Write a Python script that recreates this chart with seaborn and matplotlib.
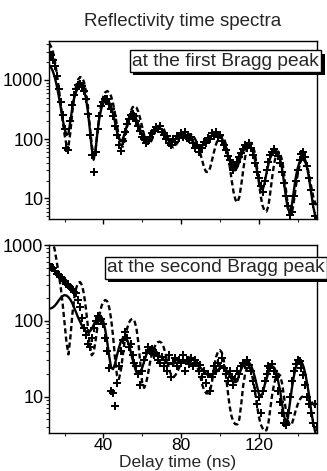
import matplotlib
matplotlib.use("Agg")
import matplotlib.pyplot as plt
import matplotlib.patheffects as pe
from matplotlib.ticker import FixedLocator, LogLocator, NullFormatter
import seaborn as sns

sns.set_style("ticks")
plt.rcParams['font.family'] = ['Liberation Sans', 'DejaVu Sans']

TIME_NS = list(range(12, 151))

TOP_DATA = [
    2900, 2600, 2200, 1700, 1150, 700, 420, 260, 150, 70,
    66, 200, 380, 560, 700, 820, 850, 800, 660, 470,
    270, 120, 55, 28, 60, 150, 250, 360, 420, 470,
    470, 400, 330, 250, 170, 120, 80, 63, 95, 130,
    180, 220, 260, 270, 245, 200, 165, 135, 110, 100,
    88, 95, 110, 125, 140, 160, 150, 165, 130, 120,
    100, 115, 88, 80, 100, 90, 115, 105, 125, 110,
    130, 105, 100, 110, 85, 70, 80, 62, 72, 70,
    90, 85, 105, 100, 125, 115, 130, 110, 120, 95,
    80, 65, 52, 45, 38, 30, 35, 42, 50, 58,
    68, 80, 70, 85, 72, 55, 40, 28, 22, 16,
    13, 20, 30, 42, 55, 60, 68, 58, 52, 40,
    28, 18, 11, 7.5, 5.3, 6, 11, 20, 30, 45,
    56, 62, 50, 35, 22, 14, 8, 5, 3.8,
]
TOP_SOLID = [
    1800, 1650, 1400, 1100, 800, 540, 350, 220, 150, 118,
    125, 200, 340, 500, 640, 740, 790, 770, 670, 500,
    300, 150, 70, 45, 68, 135, 235, 335, 410, 450,
    455, 420, 350, 270, 195, 135, 102, 92, 100, 127,
    165, 205, 235, 250, 243, 215, 178, 143, 118, 103,
    97, 98, 105, 118, 135, 150, 156, 154, 147, 135,
    120, 107, 98, 94, 95, 100, 107, 114, 119, 122,
    121, 117, 110, 101, 92, 84, 78, 75, 75, 78,
    84, 92, 101, 110, 117, 122, 124, 122, 115, 104,
    89, 72, 56, 43, 34, 30, 30, 34, 42, 53,
    63, 72, 77, 78, 73, 62, 46, 31, 20, 15,
    14, 18, 27, 38, 49, 57, 62, 62, 57, 46,
    32, 19, 10.5, 6.7, 5.8, 7.5, 13, 22, 32, 41,
    46, 46, 41, 32, 21, 12.5, 7.5, 5.2, 4.3,
]
TOP_DASHED = [
    4200, 3700, 3000, 2100, 1300, 750, 400, 210, 120, 80,
    75, 130, 290, 530, 800, 1020, 1120, 1100, 930, 650,
    370, 170, 80, 53, 65, 140, 260, 400, 530, 620,
    650, 620, 530, 400, 270, 170, 110, 80, 75, 95,
    145, 215, 290, 345, 365, 345, 290, 220, 160, 118,
    95, 85, 86, 98, 120, 145, 163, 171, 166, 150,
    127, 104, 86, 76, 73, 77, 86, 97, 108, 116,
    120, 122, 122, 120, 114, 104, 90, 73, 56, 42,
    32, 28, 28, 33, 45, 62, 82, 100, 111, 113,
    104, 84, 58, 36, 21, 13, 9.5, 8.6, 10.5, 17,
    30, 50, 70, 84, 87, 78, 58, 36, 20, 11,
    7.5, 6.2, 6, 7.5, 13, 24, 40, 55, 62, 58,
    44, 27, 14, 7.5, 5.2, 5.5, 8.5, 15, 25, 36,
    45, 48, 44, 35, 24, 16, 11, 8.5, 7.5,
]

BOTTOM_DATA = [
    560, 520, 500, 460, 420, 400, 380, 350, 330, 310,
    300, 280, 260, 240, 230, 190, 150, 110, 80, 65,
    50, 45, 60, 80, 100, 115, 110, 105, 90, 60,
    40, 24, 12, 11, 7.5, 15, 25, 40, 55, 70,
    60, 45, 50, 35, 28, 25, 20, 14, 22, 30,
    38, 45, 40, 42, 35, 38, 30, 28, 33, 25,
    30, 22, 35, 18, 28, 32, 25, 30, 28, 35,
    22, 30, 27, 32, 25, 30, 28, 22, 26, 18,
    22, 15, 20, 12, 18, 25, 22, 28, 25, 32,
    24, 20, 16, 22, 18, 14, 17, 22, 20, 25,
    28, 26, 30, 26, 22, 16, 12, 8, 10, 6,
    12, 16, 20, 25, 24, 27, 22, 18, 12, 8.5,
    6, 4.5, 4.2, 6, 10, 16, 22, 27, 30, 29,
    24, 19, 14, 10, 8, 6, 4.5, 8, 4,
]
BOTTOM_SOLID = [
    145, 146, 150, 158, 170, 185, 200, 212, 218, 215,
    205, 190, 170, 148, 128, 110, 97, 86, 78, 73,
    71, 72, 78, 88, 100, 110, 116, 112, 98, 75,
    52, 34, 24, 23, 27, 35, 44, 53, 59, 61,
    58, 50, 40, 31, 25, 21, 20, 21, 24, 29,
    35, 40, 44, 45, 43, 40, 37, 34, 33, 31,
    29, 28, 27, 27, 27, 28, 28, 29, 29, 29,
    29, 28.5, 28, 27.5, 27, 26.5, 26, 25, 24, 22.5,
    21, 20, 19, 19, 19, 20, 21, 22.5, 24, 24.5,
    24, 23, 21, 19, 17, 15.5, 15.5, 16, 20, 23,
    26, 28, 29, 28, 26, 22, 18, 14, 11, 10,
    11, 14, 17, 21, 24, 25, 24, 21, 16, 12,
    8, 5.5, 4.6, 5.2, 8, 12.5, 18, 24, 28, 30,
    29, 25, 20, 14.5, 10, 6.5, 4.5, 3.5, 2.8,
]
BOTTOM_DASHED = [
    2000, 1500, 1100, 850, 600, 420, 280, 170, 95, 52,
    36, 60, 120, 200, 270, 315, 325, 295, 225, 145,
    85, 48, 35, 38, 55, 85, 120, 155, 180, 188,
    180, 150, 105, 62, 32, 19, 17, 22, 35, 55,
    75, 92, 103, 106, 100, 80, 52, 28, 15, 13,
    15, 20, 28, 36, 43, 49, 52, 53, 51, 45,
    37, 28, 22, 19, 18, 19, 21, 24, 27, 30,
    32, 33, 33, 32, 31, 29, 26, 22, 18, 14,
    12, 11, 11, 12, 16, 24, 33, 39, 41, 38,
    30, 20, 12, 7.5, 5.5, 4.6, 4.3, 4.3, 5, 8,
    14, 20, 24, 25, 22, 17, 12, 8, 5.5, 4.3,
    3.8, 3.5, 3.6, 4.5, 7, 11, 15, 18.5, 20, 19,
    15, 10, 6.5, 4.8, 4.2, 4.3, 5.2, 6.5, 7.8, 9,
    9.8, 10.2, 10.3, 10, 9.3, 8.6, 8, 7.5, 7.2,
]

X_MAJOR = [40, 80, 120]
X_MINOR = [20, 60, 100, 140]
Y_TICKS = [10, 100, 1000]
Y_LABELS = ["10", "100", "1000"]
TITLE = "Reflectivity time spectra"
XLABEL = "Delay time (ns)"
TOP_NOTE = "at the first Bragg peak"
BOTTOM_NOTE = "at the second Bragg peak"

W, H = 327, 471
fig = plt.figure(figsize=(W / 100, H / 100), dpi=100)
ax1 = fig.add_axes([49 / W, 1 - 219 / H, 268 / W, 178 / H])
ax2 = fig.add_axes([49 / W, 1 - 433 / H, 268 / W, 188 / H])


def panel(ax, data, solid, dashed, ylim):
    sns.scatterplot(x=TIME_NS, y=data, ax=ax, marker='P', s=28, color='k',
                    linewidth=0, zorder=3)
    sns.lineplot(x=TIME_NS, y=solid, ax=ax, color='k', lw=1.7, zorder=4)
    sns.lineplot(x=TIME_NS, y=dashed, ax=ax, color='k', lw=1.7,
                 linestyle=(0, (2.2, 1.3)), zorder=4)
    ax.set_yscale('log')
    ax.set_xlim(12, 150)
    ax.set_ylim(*ylim)
    ax.xaxis.set_major_locator(FixedLocator(X_MAJOR))
    ax.xaxis.set_minor_locator(FixedLocator(X_MINOR))
    ax.set_yticks(Y_TICKS)
    ax.set_yticklabels(Y_LABELS)
    ax.yaxis.set_minor_locator(LogLocator(base=10, subs=range(2, 10)))
    ax.yaxis.set_minor_formatter(NullFormatter())
    ax.tick_params(which='major', direction='out', length=3.5, width=1,
                   labelsize=13, pad=0.5, colors='k')
    ax.tick_params(which='minor', direction='out', length=2.2, width=0.8)
    ax.set_xlabel("")
    ax.set_ylabel("")
    for s in ax.spines.values():
        s.set_visible(True)
        s.set_linewidth(1.0)
        s.set_color('k')


panel(ax1, TOP_DATA, TOP_SOLID, TOP_DASHED, (4.5, 4550))
panel(ax2, BOTTOM_DATA, BOTTOM_SOLID, BOTTOM_DASHED, (3.3, 1000))
ax1.tick_params(labelbottom=False)
ax2.tick_params(axis='x', which='major', labelsize=12.5, pad=0)

fig.text(183 / W, 1 - 21 / H, TITLE, ha='center', va='center', fontsize=13.5)
fig.text(178 / W, 1 - 470.5 / H, XLABEL, ha='center', va='bottom', fontsize=12.5)


def note(x, y, s):
    t = fig.text(x / W, 1 - y / H, s, ha='left', va='center', fontsize=13.8,
                 bbox=dict(boxstyle='square,pad=0.12', fc='white', ec='k', lw=1),
                 zorder=10)
    t.get_bbox_patch().set_path_effects([
        pe.SimplePatchShadow(offset=(2.5, -2.5), shadow_rgbFace='k', alpha=1),
        pe.Normal()])
    return t


note(132, 61, TOP_NOTE)
note(107, 268, BOTTOM_NOTE)

fig.savefig("out.png", dpi=100)
